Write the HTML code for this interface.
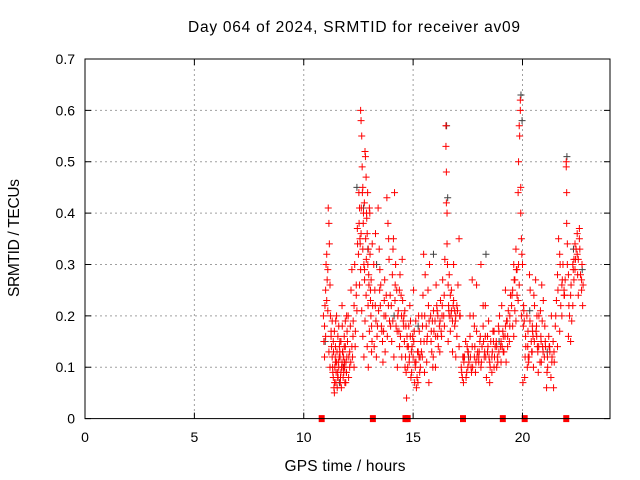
<!DOCTYPE html>
<html><head><meta charset="utf-8"><style>
body{margin:0;background:#fff;}
svg{display:block;font-family:"Liberation Sans",sans-serif;}
</style></head><body>
<svg id="chart" width="640" height="480" viewBox="0 0 640 480">
<rect width="640" height="480" fill="#fff"/>
<text x="354" y="32" font-size="15.5" text-anchor="middle" textLength="332">Day 064 of 2024, SRMTID for receiver av09</text>
<text x="345" y="471" font-size="15.5" text-anchor="middle" textLength="121">GPS time / hours</text>
<text x="19" y="238" font-size="15.5" text-anchor="middle" textLength="118" transform="rotate(-90 19 238)">SRMTID / TECUs</text>
<g id="grid"></g><g id="gray"></g><g id="pts"></g><g id="axes"></g>
</svg>
<script>
const xTicks=[0,5,10,15,20];
const yTicks=[0,0.1,0.2,0.3,0.4,0.5,0.6,0.7];
const yTickLabels=["0","0.1","0.2","0.3","0.4","0.5","0.6","0.7"];
const zeroTimes=[10.82,13.16,14.65,14.75,17.28,19.1,20.1,22.0];
const times=[10.9,10.92,10.95,10.97,11.0,11.02,11.05,11.07,11.1,11.12,11.15,11.17,11.2,11.22,11.25,11.27,11.3,10.95,11.0,11.05,11.1,11.15,11.2,11.25,
11.3,11.33,11.35,11.38,11.4,11.42,11.45,11.47,11.5,11.52,11.55,11.57,11.6,11.62,11.65,11.67,11.7,11.72,11.75,11.77,11.8,11.82,11.85,11.87,11.9,11.92,11.95,11.97,11.4,11.5,11.6,11.7,11.8,11.9,11.45,11.55,11.65,11.75,11.85,11.95,
12.0,12.03,12.06,12.1,12.13,12.16,12.2,12.23,12.26,12.3,12.33,12.36,12.4,12.43,12.46,12.05,12.15,12.25,12.35,12.45,12.1,12.2,12.3,12.4,
12.5,12.52,12.55,12.57,12.6,12.62,12.65,12.67,12.7,12.72,12.75,12.77,12.8,12.82,12.85,12.87,12.9,12.92,12.95,12.97,13.0,13.02,13.05,13.07,13.1,13.12,13.15,12.55,12.6,12.65,12.7,12.75,12.8,12.85,12.9,12.95,13.0,13.05,13.1,12.62,12.7,12.78,12.86,12.94,
13.2,13.25,13.3,13.35,13.4,13.45,13.5,13.55,13.6,13.65,13.7,13.75,13.8,13.85,13.9,13.95,13.22,13.32,13.42,13.52,13.62,13.72,13.82,13.92,13.28,13.48,13.68,13.88,
14.0,14.05,14.1,14.15,14.2,14.25,14.3,14.35,14.4,14.45,14.5,14.55,14.02,14.12,14.22,14.32,14.42,14.52,14.08,14.18,14.28,14.38,14.48,14.58,
14.6,14.65,14.7,14.75,14.8,14.85,14.9,14.95,15.0,15.05,15.1,15.15,15.2,15.25,15.3,15.35,14.62,14.72,14.82,14.92,15.02,15.12,15.22,15.32,14.68,14.78,14.88,14.98,15.08,15.18,15.28,15.38,
15.4,15.45,15.5,15.55,15.6,15.65,15.7,15.75,15.8,15.85,15.9,15.95,16.0,16.05,16.1,16.15,16.2,16.25,16.3,16.35,16.4,16.45,15.42,15.52,15.62,15.72,15.82,15.92,16.02,16.12,16.22,16.32,16.42,15.48,15.68,15.88,16.08,16.28,
16.5,16.5,16.52,16.52,16.55,16.55,16.57,16.6,16.62,16.65,16.7,16.75,16.8,16.85,16.9,16.95,17.0,17.05,17.1,17.15,16.6,16.7,16.8,16.9,17.0,17.1,16.65,16.75,16.85,16.95,
17.2,17.25,17.3,17.35,17.4,17.45,17.5,17.55,17.6,17.65,17.7,17.75,17.8,17.85,17.9,17.95,18.0,18.05,18.1,18.15,18.2,18.25,18.3,18.35,18.4,18.45,18.5,18.55,18.6,18.65,18.7,18.75,17.3,17.5,17.7,17.9,18.1,18.3,18.5,18.7,17.6,17.8,18.0,18.2,18.4,18.6,
18.8,18.85,18.9,18.95,19.0,19.05,19.1,19.15,19.2,19.25,19.3,19.35,19.4,19.45,18.82,18.92,19.02,19.12,19.22,19.32,19.42,
19.5,19.55,19.6,19.65,19.7,19.75,19.8,19.82,19.85,19.87,19.9,19.9,19.92,19.92,19.95,19.97,19.55,19.65,19.75,19.85,19.95,19.6,19.7,19.8,
20.0,20.05,20.1,20.15,20.2,20.25,20.3,20.35,20.4,20.45,20.5,20.55,20.6,20.65,20.7,20.75,20.8,20.85,20.9,20.95,20.02,20.12,20.22,20.32,20.42,20.52,20.62,20.72,20.82,20.92,20.08,20.28,20.48,20.68,20.88,
21.0,21.05,21.1,21.15,21.2,21.25,21.3,21.35,21.4,21.45,21.02,21.12,21.22,21.32,21.42,
21.5,21.55,21.6,21.65,21.7,21.75,21.8,21.85,21.9,21.95,22.0,22.0,22.02,22.02,22.05,22.05,22.1,21.6,21.7,21.8,21.9,
22.1,22.15,22.2,22.25,22.3,22.35,22.4,22.45,22.5,22.55,22.6,22.65,22.7,22.75,22.2,22.3,22.4,22.5,22.6,22.7,22.35,22.55];
const values=[.2,.15,.18,.22,.25,.3,.32,.27,.21,.41,.38,.34,.26,.2,.17,.14,.19,.12,.16,.23,.29,.13,.1,.16,
.12,.09,.08,.06,.05,.1,.14,.07,.11,.13,.09,.08,.1,.12,.15,.07,.09,.06,.11,.13,.08,.12,.16,.1,.14,.07,.09,.12,.17,.2,.18,.15,.1,.19,.11,.08,.13,.22,.14,.09,
.15,.2,.12,.1,.18,.25,.14,.12,.19,.22,.3,.17,.26,.21,.34,.08,.11,.16,.14,.37,.13,.29,.1,.24,
.32,.44,.41,.35,.6,.58,.55,.49,.45,.38,.3,.42,.52,.51,.47,.4,.36,.44,.33,.28,.41,.4,.25,.2,.18,.15,.22,.26,.29,.21,.16,.12,.19,.24,.14,.1,.17,.23,.13,.36,.33,.27,.31,.22,
.3,.25,.19,.16,.41,.33,.22,.18,.15,.17,.27,.2,.43,.38,.31,.24,.14,.12,.21,.26,.11,.13,.16,.19,.36,.29,.23,.35,
.22,.28,.35,.44,.3,.25,.2,.17,.28,.24,.31,.19,.15,.12,.18,.21,.16,.23,.33,.26,.1,.14,.12,.2,
.15,.12,.04,.1,.18,.22,.08,.14,.12,.17,.1,.06,.13,.2,.09,.15,.21,.16,.11,.13,.25,.19,.07,.12,.09,.14,.19,.16,.11,.08,.17,.13,
.2,.24,.15,.28,.18,.16,.22,.3,.2,.13,.1,.17,.19,.26,.21,.14,.18,.23,.16,.27,.2,.31,.12,.09,.11,.07,.15,.12,.1,.16,.13,.2,.24,.32,.25,.19,.22,.17,
.57,.53,.48,.42,.4,.34,.3,.26,.22,.2,.24,.21,.19,.23,.21,.2,.22,.26,.35,.2,.15,.17,.13,.18,.16,.14,.28,.25,.3,.12,
.1,.08,.07,.12,.15,.09,.13,.11,.16,.1,.14,.2,.12,.09,.17,.13,.11,.15,.1,.14,.18,.12,.16,.08,.13,.19,.11,.15,.12,.17,.1,.14,.12,.1,.27,.26,.3,.22,.07,.17,.2,.18,.12,.22,.16,.09,
.15,.12,.18,.2,.14,.22,.17,.13,.16,.11,.19,.21,.15,.24,.1,.13,.11,.16,.25,.14,.18,
.22,.25,.3,.27,.33,.29,.44,.5,.57,.55,.62,.6,.45,.4,.35,.32,.18,.21,.24,.26,.2,.16,.19,.23,
.3,.22,.08,.14,.2,.17,.12,.25,.15,.18,.1,.22,.27,.16,.13,.2,.11,.15,.19,.23,.07,.12,.1,.28,.13,.24,.17,.09,.21,.14,.19,.11,.16,.14,.26,
.12,.14,.06,.1,.16,.13,.08,.12,.15,.11,.18,.09,.14,.2,.06,
.18,.23,.28,.35,.32,.22,.26,.3,.25,.27,.5,.49,.44,.38,.34,.3,.28,.14,.17,.2,.24,
.16,.2,.24,.19,.3,.27,.34,.33,.36,.31,.35,.28,.25,.22,.15,.22,.29,.32,.37,.27,.31,.24];
const extraTimes=[11.32,11.36,11.41,11.44,11.48,11.53,11.58,11.63,11.68,11.73,11.78,11.83,11.88,11.93,11.98,11.35,11.46,11.56,11.66,11.76,11.86,11.96,
12.53,12.58,12.63,12.68,12.73,12.78,12.83,12.88,12.93,12.98,13.03,13.08,13.13,
13.27,13.37,13.47,13.57,13.67,13.77,13.87,13.97,14.07,14.17,14.27,14.37,14.47,14.57,
14.63,14.73,14.83,14.93,15.03,15.13,15.23,15.33,14.67,14.87,15.07,15.27,
15.43,15.53,15.63,15.73,15.83,15.93,16.03,16.13,16.23,16.33,16.43,16.63,16.73,16.83,16.93,17.03,17.13,
17.22,17.32,17.42,17.52,17.62,17.72,17.82,17.92,18.02,18.12,18.22,18.32,18.42,18.52,18.62,18.72,18.82,18.92,19.02,19.12,19.22,19.32,19.42,17.27,17.47,17.67,17.87,18.07,18.27,18.47,18.67,18.87,19.07,19.27,
19.52,19.62,19.72,19.82,20.04,20.14,20.24,20.34,20.44,20.54,20.64,20.74,20.84,20.94,21.04,21.14,21.24,21.34,21.44,20.06,20.26,20.46,20.66,20.86,
21.52,21.62,21.72,21.82,21.92,22.12,22.22,22.32,22.42,22.52,22.62,22.72,22.77];
const extraValues=[.1,.13,.07,.12,.09,.06,.11,.14,.08,.1,.13,.09,.07,.11,.17,.15,.19,.16,.12,.18,.11,.2,
.38,.34,.41,.44,.4,.29,.35,.39,.3,.26,.32,.27,.34,
.22,.18,.25,.17,.2,.24,.22,.18,.19,.23,.17,.25,.2,.18,
.1,.14,.12,.09,.15,.11,.13,.1,.18,.16,.07,.12,
.18,.2,.15,.19,.17,.21,.16,.2,.19,.22,.18,.21,.2,.22,.19,.21,.2,
.09,.11,.08,.13,.12,.1,.14,.12,.13,.11,.15,.12,.14,.1,.13,.12,.14,.17,.15,.13,.18,.16,.2,.12,.14,.09,.11,.16,.13,.12,.15,.11,.14,.19,
.24,.27,.29,.3,.18,.16,.14,.19,.13,.15,.18,.14,.16,.13,.15,.12,.14,.11,.13,.21,.12,.17,.2,.11,
.2,.25,.3,.27,.24,.22,.26,.29,.31,.28,.33,.3,.26];
const grayTimes=[10.95,11.6,11.8,12.4,12.7,12.9,13.3,14.1,15.2,15.9,16.5,16.55,17.5,18.3,18.9,19.9,19.95,20.3,21.1,22.0,22.3,22.7];
const grayValues=[.15,.07,.1,.45,.41,.33,.3,.2,.18,.32,.57,.43,.12,.32,.15,.63,.58,.21,.13,.51,.33,.29];

const X0=85,X1=610,Y0=418.6,Y1=59;
function sx(t){return X0+(t/24)*(X1-X0);}
function sy(v){return Y0-(v/0.7)*(Y0-Y1);}
const NS="http://www.w3.org/2000/svg";
function mk(tag,attrs,parent){const e=document.createElementNS(NS,tag);for(const k in attrs)e.setAttribute(k,attrs[k]);parent.appendChild(e);return e;}
const grid=document.getElementById('grid'),axes=document.getElementById('axes');
xTicks.forEach(t=>{
 const x=sx(t);
 if(t>0){const g=mk('line',{x1:x,x2:x,y1:Y1,y2:Y0,stroke:'#a0a0a0','stroke-dasharray':'2,3'},grid);
 
 }
 mk('line',{x1:x,x2:x,y1:Y0,y2:Y0-6,stroke:'#000'},axes);
 mk('line',{x1:x,x2:x,y1:Y1,y2:Y1+6,stroke:'#000'},axes);
 const l=mk('text',{x:x,y:442,'font-size':14,'text-anchor':'middle'},axes);l.textContent=t;
 
 
});
yTicks.forEach((v,i)=>{
 const y=sy(v);
 if(i>0&&i<yTicks.length-1){const g=mk('line',{x1:X0,x2:X1,y1:y,y2:y,stroke:'#a0a0a0','stroke-dasharray':'2,3'},grid);
 
 }
 mk('line',{x1:X0,x2:X0+6,y1:y,y2:y,stroke:'#000'},axes);
 mk('line',{x1:X1,x2:X1-6,y1:y,y2:y,stroke:'#000'},axes);
 const l=mk('text',{x:75,y:y+5,'font-size':14,'text-anchor':'end'},axes);l.textContent=yTickLabels[i];
 
 
});
const frame=mk('rect',{x:X0,y:Y1,width:X1-X0,height:Y0-Y1,fill:'none',stroke:'#000'},axes);


function cross(t,v,col,parent,name){
 const x=sx(t),y=sy(v);
 const p=mk('path',{d:`M${x-3.5},${y}h7M${x},${y-3.5}v7`,stroke:col,'stroke-width':1,fill:'none'},parent);
 
 
}
const gg=document.getElementById('gray'),pg=document.getElementById('pts');
grayTimes.forEach((t,i)=>cross(t+0.03,grayValues[i],'#404040',gg,'gray-point'));
times.forEach((t,i)=>cross(t,values[i],'#ff0000',pg,'srmtid-point'));
extraTimes.forEach((t,i)=>cross(t,extraValues[i],'#ff0000',pg,'srmtid-point'));
zeroTimes.forEach(t=>{
 const x=sx(t);
 const r=mk('rect',{x:x-3,y:Y0-3.5,width:6,height:7,fill:'#ff0000'},pg);
 
 
});
</script>
</body></html>
